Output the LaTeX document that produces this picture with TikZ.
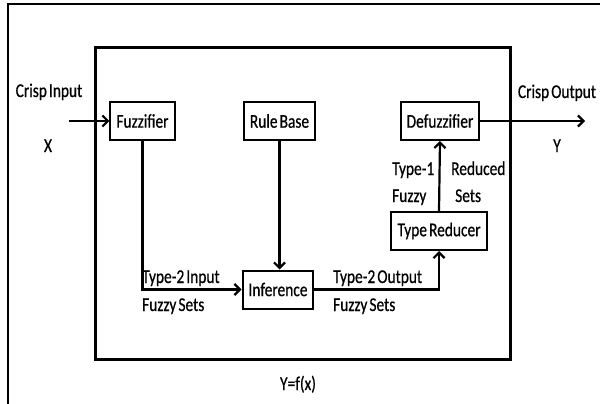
\documentclass[tikz,border=0pt]{standalone}
\usepackage{fontspec}
\setmainfont[FakeStretch=0.79, FakeBold=0.6, WordSpace=0.6]{Carlito}
\usetikzlibrary{arrows.meta}
\begin{document}
\begin{tikzpicture}
[
x=1pt, y=-1pt,
font=\fontsize{19.5}{22}\selectfont,
blockbox/.style={rectangle, draw=black, line width=2pt, minimum height=38pt, inner xsep=6pt},
tag/.style={inner sep=0pt},
flow/.style={line width=2.2pt, -{Straight Barb[length=5.5pt,width=11pt,line width=2.2pt]}}
]
\useasboundingbox (0,0) rectangle (600,404);
%Frames
\draw[line width=2pt] (600,4) -- (8,4) -- (8,404);
\draw[line width=3pt] (95,48) rectangle (510,359);
%Nodes
\node[blockbox] at(142.5,121)	(fuzz) {Fuzzifier};
\node[blockbox] at(279.5,121)	(rule) {Rule Base};
\node[blockbox] at(440,121)		(defuzz) {Defuzzifier};
\node[blockbox] at(439,231)		(reducer) {Type Reducer};
\node[blockbox] at(278,289.5)	(infer) {Inference};
\coordinate (in) at(69,121);
\coordinate (out) at(585,121);
%Labels
\node[tag, anchor=base]		(t1) at(49,97) {Crisp Input};
\node[tag, anchor=base]		(t2) at(48,152) {X};
\node[tag, anchor=base]		(t3) at(557,98) {Crisp Output};
\node[tag, anchor=base]		(t4) at(557,152) {Y};
\node[tag, anchor=base west]	(s1) at(142,283) {Type-2 Input};
\node[tag, anchor=base west]	(s2) at(142,311) {Fuzzy Sets};
\node[tag, anchor=base west]	(s3) at(333,283) {Type-2 Output};
\node[tag, anchor=base west]	(s4) at(333,311) {Fuzzy Sets};
\node[tag, anchor=base west]	(s5) at(392,175) {Type-1};
\node[tag, anchor=base west]	(s6) at(392,202) {Fuzzy};
\node[tag, anchor=base west]	(s7) at(451,175) {Reduced};
\node[tag, anchor=base west]	(s8) at(455,202) {Sets};
\node[tag, anchor=base]		(t5) at(298,390) {Y=f(x)};
%Connectors
\draw[flow] (in) -- (fuzz.west);
\draw[flow] (defuzz.east) -- (out);
\draw[flow] (fuzz.south) |- (infer.west);
\draw[flow] (rule.south) -- (rule.south |- infer.north);
\draw[flow] (infer.east) -| (reducer.south);
\draw[flow] (reducer.north) -- (defuzz.south);
\end{tikzpicture}
\end{document}
